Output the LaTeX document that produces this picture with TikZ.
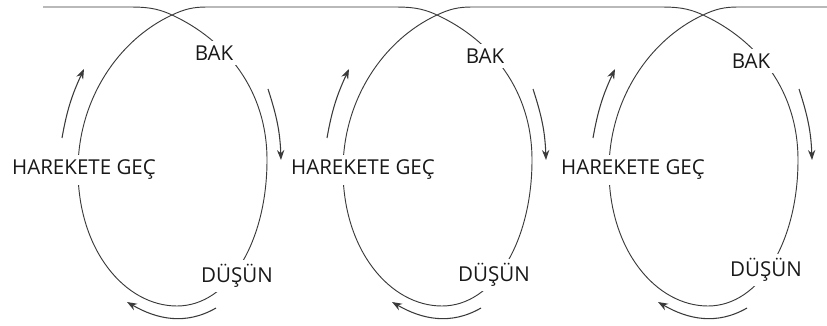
\documentclass[tikz,border=0pt]{standalone}
\usepackage{fontspec}
\setmainfont{Open Sans}
\usepackage{tikz}
\usetikzlibrary{arrows.meta}

\definecolor{lineGray}{HTML}{3A3A3A}

\tikzset{
    coil/.style={draw=lineGray, line width=0.7pt},
    turn/.style={->, draw=lineGray, line width=0.8pt},
    stage/.style={fill=white, inner sep=3.5pt, text=black!90, font=\fontsize{15.4}{18}\selectfont}
}

\begin{document}
\begin{tikzpicture}[x=0.75pt, y=0.75pt, >={Stealth[length=7.5pt, width=5.5pt]}]
    % Frame
    \useasboundingbox (0,0) rectangle (827,325);

    % Coil through the three loops
    \draw[coil] (43,318) foreach \cx in {172,437,703} {
        -- (\cx-45,318) to[out=0, in=155] (\cx,310)
        .. controls (\cx+54,285) and (\cx+95,235) .. (\cx+95,165)
        .. controls (\cx+95,84) and (\cx+57,19) .. (\cx+5,19)
        .. controls (\cx-47,19) and (\cx-94,75) .. (\cx-94,155)
        .. controls (\cx-94,225) and (\cx-54,285) .. (\cx,310)
        to[out=25, in=180] (\cx+35,318)
    } -- (827,318);

    % Stages and turning arrows of each loop
    \foreach \cx/\n/\bx/\by/\gx/\dx/\dy in {172/1/42/272/-88/65/49, 437/2/48/269/-74/57/50, 703/3/48/264/-70/63/55} {
        \node[stage] (bak\n) at (\cx+\bx,\by) {BAK};
        \node[stage] (gec\n) at (\cx+\gx,155) {HAREKETE GEÇ};
        \node[stage] (dusun\n) at (\cx+\dx,\dy) {DÜŞÜN};

        \coordinate (rs\n) at (\cx+96,236);
        \coordinate (re\n) at (\cx+109,165);
        \coordinate (bs\n) at (\cx+44,17);
        \coordinate (be\n) at (\cx-45,23);
        \coordinate (ls\n) at (\cx-110,187);
        \coordinate (le\n) at (\cx-88,256);

        \draw[turn] (rs\n) to[out=-72, in=92] (re\n);
        \draw[turn] (bs\n) to[out=-150, in=-30] (be\n);
        \draw[turn] (ls\n) to[out=80, in=-115] (le\n);
    }
\end{tikzpicture}
\end{document}
